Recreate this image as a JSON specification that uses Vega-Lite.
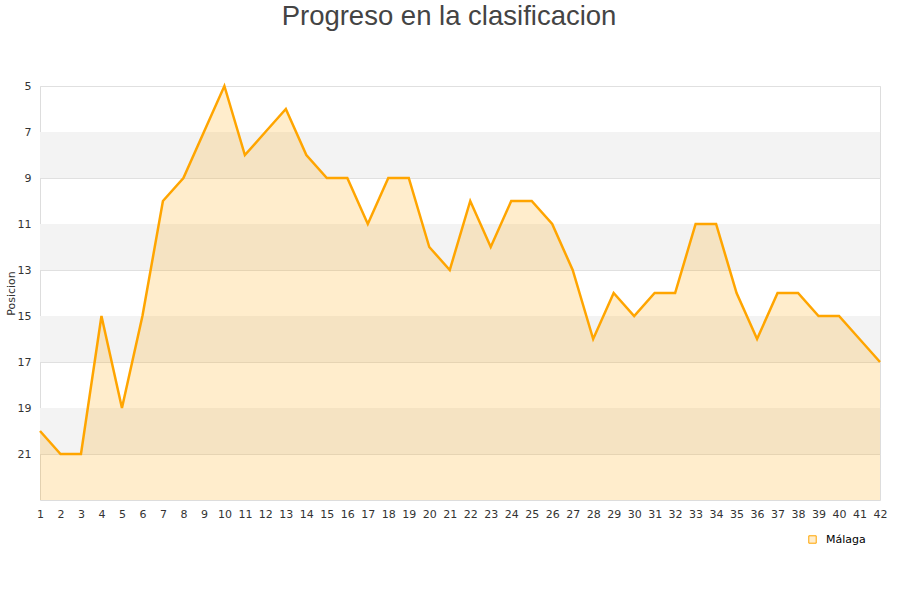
{
  "$schema": "https://vega.github.io/schema/vega-lite/v6.json",
  "autosize": {"type": "none"},
  "padding": {"left": 40, "top": 86, "right": 20, "bottom": 100},
  "width": 840,
  "height": 414,
  "background": "white",
  "title": {
    "text": "Progreso en la clasificacion",
    "font": "Liberation Sans",
    "fontSize": 27.5,
    "fontWeight": "normal",
    "color": "#444444",
    "anchor": "middle",
    "dx": -11,
    "baseline": "bottom",
    "offset": 22
  },
  "config": {
    "view": {"stroke": "#dddddd", "strokeWidth": 1},
    "axis": {"labelFont": "DejaVu Sans", "labelFontSize": 11, "labelColor": "#333333", "titleFont": "DejaVu Sans", "titleFontSize": 11, "titleFontWeight": "normal", "titleColor": "#333333"}
  },
  "datasets": {
    "bands": [
      {"y1": 7, "y2": 9},
      {"y1": 11, "y2": 13},
      {"y1": 15, "y2": 17},
      {"y1": 19, "y2": 21}
    ],
    "main": [
      {"jornada": 1, "posicion": 20, "equipo": "Málaga"},
      {"jornada": 2, "posicion": 21, "equipo": "Málaga"},
      {"jornada": 3, "posicion": 21, "equipo": "Málaga"},
      {"jornada": 4, "posicion": 15, "equipo": "Málaga"},
      {"jornada": 5, "posicion": 19, "equipo": "Málaga"},
      {"jornada": 6, "posicion": 15, "equipo": "Málaga"},
      {"jornada": 7, "posicion": 10, "equipo": "Málaga"},
      {"jornada": 8, "posicion": 9, "equipo": "Málaga"},
      {"jornada": 9, "posicion": 7, "equipo": "Málaga"},
      {"jornada": 10, "posicion": 5, "equipo": "Málaga"},
      {"jornada": 11, "posicion": 8, "equipo": "Málaga"},
      {"jornada": 12, "posicion": 7, "equipo": "Málaga"},
      {"jornada": 13, "posicion": 6, "equipo": "Málaga"},
      {"jornada": 14, "posicion": 8, "equipo": "Málaga"},
      {"jornada": 15, "posicion": 9, "equipo": "Málaga"},
      {"jornada": 16, "posicion": 9, "equipo": "Málaga"},
      {"jornada": 17, "posicion": 11, "equipo": "Málaga"},
      {"jornada": 18, "posicion": 9, "equipo": "Málaga"},
      {"jornada": 19, "posicion": 9, "equipo": "Málaga"},
      {"jornada": 20, "posicion": 12, "equipo": "Málaga"},
      {"jornada": 21, "posicion": 13, "equipo": "Málaga"},
      {"jornada": 22, "posicion": 10, "equipo": "Málaga"},
      {"jornada": 23, "posicion": 12, "equipo": "Málaga"},
      {"jornada": 24, "posicion": 10, "equipo": "Málaga"},
      {"jornada": 25, "posicion": 10, "equipo": "Málaga"},
      {"jornada": 26, "posicion": 11, "equipo": "Málaga"},
      {"jornada": 27, "posicion": 13, "equipo": "Málaga"},
      {"jornada": 28, "posicion": 16, "equipo": "Málaga"},
      {"jornada": 29, "posicion": 14, "equipo": "Málaga"},
      {"jornada": 30, "posicion": 15, "equipo": "Málaga"},
      {"jornada": 31, "posicion": 14, "equipo": "Málaga"},
      {"jornada": 32, "posicion": 14, "equipo": "Málaga"},
      {"jornada": 33, "posicion": 11, "equipo": "Málaga"},
      {"jornada": 34, "posicion": 11, "equipo": "Málaga"},
      {"jornada": 35, "posicion": 14, "equipo": "Málaga"},
      {"jornada": 36, "posicion": 16, "equipo": "Málaga"},
      {"jornada": 37, "posicion": 14, "equipo": "Málaga"},
      {"jornada": 38, "posicion": 14, "equipo": "Málaga"},
      {"jornada": 39, "posicion": 15, "equipo": "Málaga"},
      {"jornada": 40, "posicion": 15, "equipo": "Málaga"},
      {"jornada": 41, "posicion": 16, "equipo": "Málaga"},
      {"jornada": 42, "posicion": 17, "equipo": "Málaga"}
    ]
  },
  "encoding": {
    "x": {
      "type": "quantitative",
      "scale": {"domain": [1, 42], "nice": false, "zero": false},
      "axis": {"values": [1,2,3,4,5,6,7,8,9,10,11,12,13,14,15,16,17,18,19,20,21,22,23,24,25,26,27,28,29,30,31,32,33,34,35,36,37,38,39,40,41,42], "title": null, "grid": false, "ticks": false, "domain": false, "labelPadding": 8, "labelOverlap": false, "labelFlush": false}
    },
    "y": {
      "type": "quantitative",
      "scale": {"domain": [5, 23], "reverse": true, "zero": false, "nice": false},
      "axis": {"values": [5,7,9,11,13,15,17,19,21], "title": "Posicion", "grid": true, "gridColor": "#e0e0e0", "ticks": false, "domain": false, "labelPadding": 9, "titlePadding": 1}
    }
  },
  "layer": [
    {
      "data": {"name": "bands"},
      "mark": {"type": "rect", "fill": "#f3f3f3"},
      "encoding": {
        "y": {"field": "y1", "type": "quantitative"},
        "y2": {"field": "y2"}
      }
    },
    {
      "data": {"name": "main"},
      "mark": {"type": "area", "color": "#ffa500", "opacity": 0.2},
      "encoding": {
        "x": {"field": "jornada", "type": "quantitative"},
        "y": {"field": "posicion", "type": "quantitative"},
        "y2": {"datum": 23}
      }
    },
    {
      "data": {"name": "main"},
      "mark": {"type": "line", "strokeWidth": 2.5},
      "encoding": {
        "x": {"field": "jornada", "type": "quantitative"},
        "y": {"field": "posicion", "type": "quantitative"},
        "color": {
          "field": "equipo", "type": "nominal",
          "scale": {"range": ["#ffa500"]},
          "legend": {
            "title": null, "orient": "none", "legendX": 767, "legendY": 448,
            "symbolType": "square", "symbolSize": 55, "padding": 0, "labelOffset": 8,
            "symbolStrokeColor": "#b89a6a", "symbolFillColor": "#ffedcc", "symbolStrokeWidth": 1,
            "labelFont": "DejaVu Sans", "labelFontSize": 11, "labelColor": "#000000",
            "encode": {"symbols": {"update": {"fill": {"value": "#ffedcc"}, "stroke": {"value": "#b89a6a"}, "strokeWidth": {"value": 1}}}}
          }
        }
      }
    }
  ]
}
